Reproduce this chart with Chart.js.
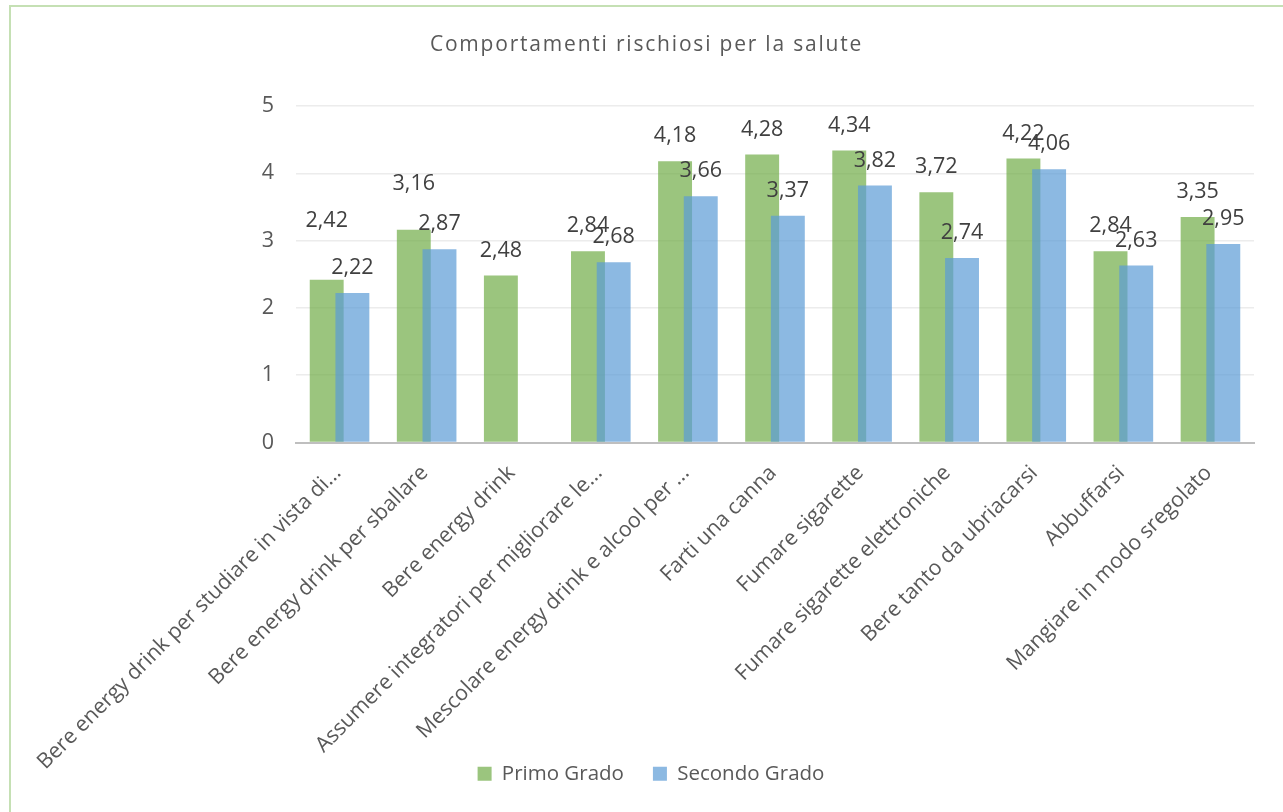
<!DOCTYPE html>
<html lang="it">
<head>
<meta charset="utf-8">
<title>Comportamenti rischiosi per la salute</title>
<script src="https://cdn.jsdelivr.net/npm/chart.js@4/dist/chart.umd.min.js"></script>
<style>
  html, body { margin: 0; padding: 0; background: #ffffff; }
  #wrap { position: relative; width: 1283px; height: 812px; overflow: hidden; }
  #chart { position: absolute; left: 0; top: 0; }
  .frame-top { position: absolute; left: 9px; top: 5px; width: 1274px; height: 2px; background: #c5e0b4; }
  .frame-left { position: absolute; left: 9px; top: 5px; width: 2px; height: 807px; background: #c5e0b4; }
</style>
</head>
<body>
<div id="wrap">
  <div class="frame-top"></div>
  <div class="frame-left"></div>
  <canvas id="chart" width="1283" height="812"></canvas>
</div>
<script>
// Chart text
const chartTitle = 'Comportamenti rischiosi per la salute';
const seriesNames = ['Primo Grado', 'Secondo Grado'];

// Behaviours on the category axis
const categories = [
  'Bere energy drink per studiare in vista di...',
  'Bere energy drink per sballare',
  'Bere energy drink',
  'Assumere integratori per migliorare le...',
  'Mescolare energy drink e alcool per ...',
  'Farti una canna',
  'Fumare sigarette',
  'Fumare sigarette elettroniche',
  'Bere tanto da ubriacarsi',
  'Abbuffarsi',
  'Mangiare in modo sregolato'
];

// Mean scores per school level
const primoGrado   = [2.42, 3.16, 2.48, 2.84, 4.18, 4.28, 4.34, 3.72, 4.22, 2.84, 3.35];
const secondoGrado = [2.22, 2.87, null, 2.68, 3.66, 3.37, 3.82, 2.74, 4.06, 2.63, 2.95];

// Value axis ticks
const yTicks = [0, 1, 2, 3, 4, 5];

// Extra lift (px) for value labels that were moved up to avoid collisions
const primoLabelLift = [34, 21, 0, 0, 0, 0, 0, 0, 0, 0, 0];
const secondoLabelLift = [0, 0, 0, 0, 0, 0, 0, 0, 0, 0, 0];

const FONT = '"Open Sans", "Noto Sans", sans-serif';

// Spaced-out title drawn above the plot
const spacedTitle = {
  id: 'spacedTitle',
  afterDraw(chart) {
    const ctx = chart.ctx;
    ctx.save();
    ctx.font = '21px ' + FONT;
    ctx.fillStyle = '#595959';
    if ('letterSpacing' in ctx) ctx.letterSpacing = '1.8px';
    ctx.textAlign = 'center';
    ctx.textBaseline = 'middle';
    ctx.fillText(chartTitle, chart.width / 2 + 5, 45);
    ctx.restore();
  }
};

// The long rotated category names run down beside the legend,
// so let the x axis labels use the full canvas height
const longLabels = {
  id: 'longLabels',
  afterLayout(chart) {
    chart.scales.x.bottom = chart.height;
  }
};

// Paint the first series before the others so the second one overlaps it
const seriesOrder = {
  id: 'seriesOrder',
  beforeDatasetsDraw(chart) {
    chart.getDatasetMeta(0).controller.draw();
  },
  beforeDatasetDraw(chart, args) {
    if (args.index === 0) return false;
  }
};

// Value labels centred above each bar, decimal comma
const valueLabels = {
  id: 'valueLabels',
  afterDatasetsDraw(chart) {
    const ctx = chart.ctx;
    const lifts = [primoLabelLift, secondoLabelLift];
    ctx.save();
    ctx.font = '21.5px ' + FONT;
    ctx.fillStyle = '#404040';
    ctx.textAlign = 'center';
    ctx.textBaseline = 'middle';
    chart.data.datasets.forEach((ds, di) => {
      const meta = chart.getDatasetMeta(di);
      meta.data.forEach((bar, i) => {
        const v = ds.data[i];
        if (v === null || v === undefined) return;
        const txt = v.toFixed(2).replace('.', ',');
        ctx.fillText(txt, bar.x, bar.y - 25 - lifts[di][i]);
      });
    });
    ctx.restore();
  }
};

new Chart(document.getElementById('chart'), {
  type: 'bar',
  data: {
    labels: categories,
    datasets: [
      {
        label: seriesNames[0],
        data: primoGrado,
        backgroundColor: 'rgba(112, 173, 71, 0.7)',
        borderWidth: 0
      },
      {
        label: seriesNames[1],
        data: secondoGrado,
        backgroundColor: 'rgba(91, 155, 213, 0.7)',
        borderWidth: 0
      }
    ]
  },
  options: {
    responsive: false,
    animation: false,
    datasets: {
      bar: { categoryPercentage: 0.59, barPercentage: 1.32 }
    },
    layout: {
      padding: { top: 106, right: 29, left: 48, bottom: 18 }
    },
    scales: {
      x: {
        grid: { display: false },
        border: { display: true, color: '#bfbfbf', width: 2 },
        afterFit(scale) { scale.height = 292; },
        ticks: {
          color: '#595959',
          font: { family: FONT, size: 21.3 },
          minRotation: 45,
          maxRotation: 45,
          autoSkip: false,
          padding: 10,
          labelOffset: -2
        }
      },
      y: {
        min: 0,
        max: 5,
        afterBuildTicks(scale) { scale.ticks = yTicks.map(v => ({ value: v })); },
        afterFit(scale) { scale.width = 248; },
        grid: { color: '#ececec', lineWidth: 1.5, drawTicks: false },
        border: { display: false },
        ticks: {
          color: '#595959',
          font: { family: FONT, size: 21.5 },
          padding: 22
        }
      }
    },
    plugins: {
      title: { display: false },
      tooltip: { enabled: false },
      legend: {
        position: 'bottom',
        labels: {
          color: '#595959',
          font: { family: FONT, size: 20.5 },
          boxWidth: 14,
          boxHeight: 14,
          padding: 29
        }
      }
    }
  },
  plugins: [spacedTitle, longLabels, seriesOrder, valueLabels]
});
</script>
</body>
</html>
